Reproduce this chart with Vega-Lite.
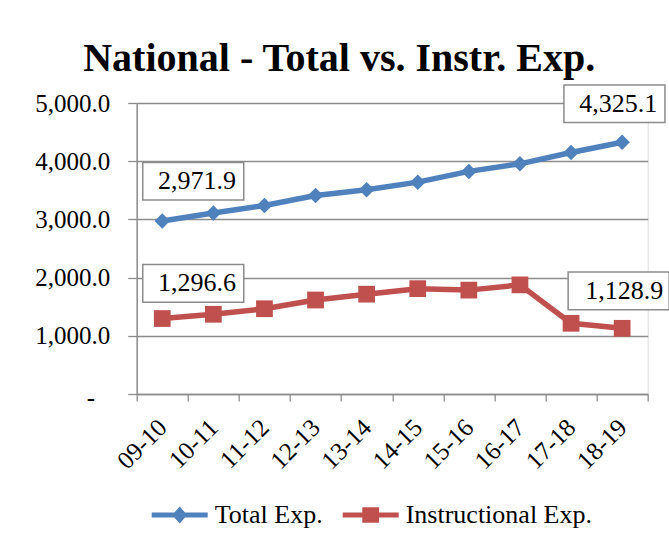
{
  "$schema": "https://vega.github.io/schema/vega-lite/v6.json",
  "width": 511,
  "height": 291,
  "autosize": {"type": "none"},
  "padding": {"left": 136.7, "top": 103, "right": 21.3, "bottom": 156},
  "background": "white",
  "title": {
    "text": "National - Total vs. Instr. Exp.",
    "font": "Liberation Serif, serif",
    "fontSize": 40,
    "fontWeight": "bold",
    "color": "black",
    "anchor": "middle",
    "frame": "group",
    "dx": -53,
    "dy": 42,
    "baseline": "alphabetic",
    "offset": 13
  },
  "datasets": {
    "exp": [
      {"year": "09-10", "series": "Total Exp.", "value": 2971.9},
      {"year": "10-11", "series": "Total Exp.", "value": 3110},
      {"year": "11-12", "series": "Total Exp.", "value": 3240},
      {"year": "12-13", "series": "Total Exp.", "value": 3410},
      {"year": "13-14", "series": "Total Exp.", "value": 3510},
      {"year": "14-15", "series": "Total Exp.", "value": 3640},
      {"year": "15-16", "series": "Total Exp.", "value": 3825},
      {"year": "16-17", "series": "Total Exp.", "value": 3955},
      {"year": "17-18", "series": "Total Exp.", "value": 4150},
      {"year": "18-19", "series": "Total Exp.", "value": 4325.1},
      {"year": "09-10", "series": "Instructional Exp.", "value": 1296.6},
      {"year": "10-11", "series": "Instructional Exp.", "value": 1370},
      {"year": "11-12", "series": "Instructional Exp.", "value": 1465},
      {"year": "12-13", "series": "Instructional Exp.", "value": 1615},
      {"year": "13-14", "series": "Instructional Exp.", "value": 1715},
      {"year": "14-15", "series": "Instructional Exp.", "value": 1810},
      {"year": "15-16", "series": "Instructional Exp.", "value": 1785},
      {"year": "16-17", "series": "Instructional Exp.", "value": 1875},
      {"year": "17-18", "series": "Instructional Exp.", "value": 1215},
      {"year": "18-19", "series": "Instructional Exp.", "value": 1128.9}
    ]
  },
  "data": {"name": "exp"},
  "encoding": {
    "x": {
      "field": "year",
      "type": "ordinal",
      "scale": {"type": "band", "paddingInner": 0, "paddingOuter": 0},
      "axis": {
        "title": null,
        "labelAngle": -45,
        "labelAlign": "right",
        "labelBaseline": "middle",
        "tickBand": "extent",
        "domainColor": "#8c8c8c",
        "domainWidth": 1.5,
        "tickColor": "#8c8c8c",
        "tickSize": 7,
        "tickWidth": 1.3,
        "labelFont": "Liberation Serif, serif",
        "labelFontSize": 25,
        "labelColor": "black",
        "labelPadding": 22,
        "grid": false
      }
    },
    "y": {
      "field": "value",
      "type": "quantitative",
      "scale": {"domain": [0, 5000], "nice": false},
      "axis": {
        "title": null,
        "values": [0, 1000, 2000, 3000, 4000, 5000],
        "labelExpr": "datum.value == 0 ? '-' : format(datum.value, ',.1f')",
        "labelPadding": {"condition": {"test": "datum.value == 0", "value": 33}, "value": 18},
        "labelOffset": {"condition": {"test": "datum.value == 0", "value": 3}, "value": 0},
        "grid": true,
        "gridColor": "#8c8c8c",
        "gridWidth": 1.3,
        "domainColor": "#8c8c8c",
        "domainWidth": 1.5,
        "tickColor": "#8c8c8c",
        "tickSize": 9,
        "tickWidth": 1.3,
        "labelFont": "Liberation Serif, serif",
        "labelFontSize": 25,
        "labelColor": "black"
      }
    },
    "color": {
      "field": "series",
      "type": "nominal",
      "scale": {"domain": ["Total Exp.", "Instructional Exp."], "range": ["#4F81BD", "#C0504D"]},
      "legend": {
        "title": null,
        "orient": "none",
        "legendX": 15,
        "legendY": 384,
        "direction": "horizontal",
        "padding": 0,
        "labelFont": "Liberation Serif, serif",
        "labelFontSize": 26,
        "labelColor": "black",
        "labelLimit": 400,
        "symbolSize": 3136,
        "symbolOpacity": 1,
        "symbolStrokeWidth": 0,
        "labelOffset": 7,
        "columnPadding": 20,
        "encode": {
          "symbols": {"update": {"fill": {"scale": "color", "field": "value"}, "opacity": {"value": 1}, "strokeWidth": {"value": 0}}}
        }
      }
    }
  },
  "layer": [
    {
      "mark": {"type": "line", "strokeWidth": 5.5, "strokeJoin": "round"}
    },
    {
      "transform": [{"filter": "datum.series == 'Total Exp.'"}],
      "mark": {"type": "point", "shape": "diamond", "filled": true, "size": 240, "opacity": 1}
    },
    {
      "transform": [{"filter": "datum.series == 'Instructional Exp.'"}],
      "mark": {"type": "point", "shape": "square", "filled": true, "size": 280, "opacity": 1}
    },
    {
      "mark": {"type": "point", "filled": true, "opacity": 0},
      "encoding": {
        "shape": {
          "field": "series",
          "type": "nominal",
          "scale": {
            "domain": ["Total Exp.", "Instructional Exp."],
            "range": [
              "M-1,-0.09L1,-0.09L1,0.09L-1,0.09Z M0,-0.3L0.27,0L0,0.3L-0.27,0Z",
              "M-1,-0.09L1,-0.09L1,0.09L-1,0.09Z M-0.3,-0.28L0.3,-0.28L0.3,0.28L-0.3,0.28Z"
            ]
          }
        }
      }
    },
    {
      "transform": [{"filter": "datum.series == 'Total Exp.' && datum.year == '09-10'"}],
      "layer": [
        {
          "mark": {"type": "point", "shape": "M-1,-0.373L1,-0.373L1,0.373L-1,0.373Z", "size": 10201, "filled": true, "stroke": "#8c8c8c", "strokeWidth": 1.5, "opacity": 1, "xOffset": 31, "yOffset": -39.8},
          "encoding": {"color": {"value": "white"}}
        },
        {
          "mark": {"type": "text", "font": "Liberation Serif, serif", "fontSize": 26, "align": "center", "baseline": "middle", "xOffset": 34.7, "yOffset": -39.8},
          "encoding": {"color": {"value": "black"}, "text": {"field": "value", "format": ",.1f"}}
        }
      ]
    },
    {
      "transform": [{"filter": "datum.series == 'Instructional Exp.' && datum.year == '09-10'"}],
      "layer": [
        {
          "mark": {"type": "point", "shape": "M-1,-0.373L1,-0.373L1,0.373L-1,0.373Z", "size": 10201, "filled": true, "stroke": "#8c8c8c", "strokeWidth": 1.5, "opacity": 1, "xOffset": 31, "yOffset": -35.2},
          "encoding": {"color": {"value": "white"}}
        },
        {
          "mark": {"type": "text", "font": "Liberation Serif, serif", "fontSize": 26, "align": "center", "baseline": "middle", "xOffset": 34.7, "yOffset": -35.2},
          "encoding": {"color": {"value": "black"}, "text": {"field": "value", "format": ",.1f"}}
        }
      ]
    },
    {
      "transform": [{"filter": "datum.series == 'Total Exp.' && datum.year == '18-19'"}],
      "layer": [
        {
          "mark": {"type": "point", "shape": "M-1,-0.373L1,-0.373L1,0.373L-1,0.373Z", "size": 10201, "filled": true, "stroke": "#8c8c8c", "strokeWidth": 1.5, "opacity": 1, "xOffset": -7.7, "yOffset": -38.5},
          "encoding": {"color": {"value": "white"}}
        },
        {
          "mark": {"type": "text", "font": "Liberation Serif, serif", "fontSize": 26, "align": "center", "baseline": "middle", "xOffset": -4, "yOffset": -38.5},
          "encoding": {"color": {"value": "black"}, "text": {"field": "value", "format": ",.1f"}}
        }
      ]
    },
    {
      "transform": [{"filter": "datum.series == 'Instructional Exp.' && datum.year == '18-19'"}],
      "layer": [
        {
          "mark": {"type": "point", "shape": "M-1,-0.373L1,-0.373L1,0.373L-1,0.373Z", "size": 10201, "filled": true, "stroke": "#8c8c8c", "strokeWidth": 1.5, "opacity": 1, "xOffset": -3.5, "yOffset": -37.5},
          "encoding": {"color": {"value": "white"}}
        },
        {
          "mark": {"type": "text", "font": "Liberation Serif, serif", "fontSize": 26, "align": "center", "baseline": "middle", "xOffset": 2, "yOffset": -37.5},
          "encoding": {"color": {"value": "black"}, "text": {"field": "value", "format": ",.1f"}}
        }
      ]
    }
  ]
}
